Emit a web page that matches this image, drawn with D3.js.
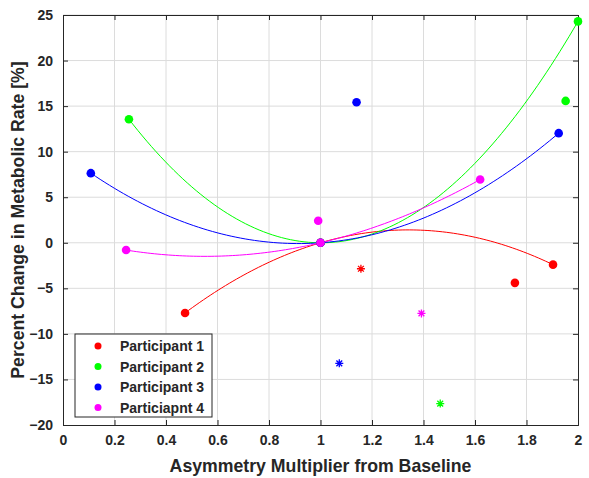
<!DOCTYPE html>
<html>
<head>
<meta charset="utf-8">
<script src="https://cdn.jsdelivr.net/npm/d3@7"></script>
<style>
  body { margin: 0; background: #fff; }
  svg text { font-family: "Liberation Sans", Arial, sans-serif; font-weight: bold; fill: #262626; }
</style>
</head>
<body>
<div id="chart"></div>
<script>
// participants, colours
var participants = ["Participant 1", "Participant 2", "Participant 3", "Particiapnt 4"];
var colors = ["#ff0000", "#00ff00", "#0000ff", "#ff00ff"];

// points used for the quadratic fit (one row per participant)
var fitX = [[0.474, 1, 1.903], [0.256, 1, 2.0], [0.108, 1, 1.925], [0.245, 1, 1.62]];
var fitY = [[-7.7, 0, -2.4], [13.56, 0, 24.3], [7.64, 0, 12.03], [-0.8, 0, 6.94]];

// other trials (dots, not on the fit)
var extraX = [[1.755], [1.952], [1.14], [0.991]];
var extraY = [[-4.4], [15.57], [15.43], [2.41]];

// asterisk markers
var starX = [1.157, 1.465, 1.073, 1.392];
var starY = [-2.85, -17.65, -13.23, -7.75];

var xTicks = [0, 0.2, 0.4, 0.6, 0.8, 1, 1.2, 1.4, 1.6, 1.8, 2];
var yTicks = [-20, -15, -10, -5, 0, 5, 10, 15, 20, 25];

var width = 589, height = 478;
var margin = {top: 15, right: 11, bottom: 53, left: 63};
var axisColor = "#262626";

var svg = d3.select("#chart").append("svg")
  .attr("width", width)
  .attr("height", height);

var x = d3.scaleLinear().domain([0, 2]).range([margin.left, width - margin.right]);
var y = d3.scaleLinear().domain([-20, 25]).range([height - margin.bottom, margin.top]);

// grid
svg.append("g").selectAll("line").data(xTicks.slice(1, -1)).enter()
  .append("line")
  .attr("x1", function(d) { return x(d); }).attr("x2", function(d) { return x(d); })
  .attr("y1", y(-20)).attr("y2", y(25))
  .attr("stroke", "#dcdcdc").attr("stroke-width", 1);
svg.append("g").selectAll("line").data(yTicks.slice(1)).enter()
  .append("line")
  .attr("y1", function(d) { return y(d); }).attr("y2", function(d) { return y(d); })
  .attr("x1", x(0)).attr("x2", x(2))
  .attr("stroke", "#dcdcdc").attr("stroke-width", 1);

// axes (ticks inward, on all four sides)
var tick = 5;
svg.append("g")
  .attr("transform", "translate(0," + y(-20) + ")")
  .call(d3.axisBottom(x).tickValues(xTicks).tickSize(-tick).tickPadding(10)
    .tickFormat(d3.format("~g")))
  .call(function(g) {
    g.selectAll("text").style("font-size", "14px");
  });
svg.append("g")
  .attr("transform", "translate(0," + y(25) + ")")
  .call(d3.axisTop(x).tickValues(xTicks).tickSize(-tick).tickFormat(""));
svg.append("g")
  .attr("transform", "translate(" + x(0) + ",0)")
  .call(d3.axisLeft(y).tickValues(yTicks).tickSize(-tick).tickPadding(10))
  .call(function(g) {
    g.selectAll("text").style("font-size", "14px");
  });
svg.append("g")
  .attr("transform", "translate(" + x(2) + ",0)")
  .call(d3.axisRight(y).tickValues(yTicks).tickSize(-tick).tickFormat(""));

svg.selectAll(".domain").attr("stroke", axisColor);
svg.selectAll(".tick line").attr("stroke", axisColor);
svg.selectAll(".tick text").attr("fill", axisColor);

// quadratic through the fit points
function quadFit(xs, ys) {
  return function(t) {
    var s = 0;
    for (var i = 0; i < 3; i++) {
      var p = ys[i];
      for (var j = 0; j < 3; j++) {
        if (j !== i) p *= (t - xs[j]) / (xs[i] - xs[j]);
      }
      s += p;
    }
    return s;
  };
}

var line = d3.line()
  .x(function(d) { return x(d[0]); })
  .y(function(d) { return y(d[1]); });

participants.forEach(function(name, k) {
  var f = quadFit(fitX[k], fitY[k]);
  var lo = d3.min(fitX[k]), hi = d3.max(fitX[k]);
  var pts = d3.range(0, 101).map(function(i) {
    var t = lo + (hi - lo) * i / 100;
    return [t, f(t)];
  });
  svg.append("path")
    .attr("d", line(pts))
    .attr("fill", "none")
    .attr("stroke", colors[k])
    .attr("stroke-width", 1);
});

participants.forEach(function(name, k) {
  var dots = fitX[k].map(function(v, i) { return [v, fitY[k][i]]; })
    .concat(extraX[k].map(function(v, i) { return [v, extraY[k][i]]; }));
  svg.append("g").selectAll("circle").data(dots).enter()
    .append("circle")
    .attr("cx", function(d) { return x(d[0]); })
    .attr("cy", function(d) { return y(d[1]); })
    .attr("r", 4.3)
    .attr("fill", colors[k]);

  // asterisk
  var sx = x(starX[k]), sy = y(starY[k]), a = 4, b = 2.9;
  svg.append("path")
    .attr("d", "M" + (sx - a) + "," + sy + "H" + (sx + a) +
      "M" + sx + "," + (sy - a) + "V" + (sy + a) +
      "M" + (sx - b) + "," + (sy - b) + "L" + (sx + b) + "," + (sy + b) +
      "M" + (sx - b) + "," + (sy + b) + "L" + (sx + b) + "," + (sy - b))
    .attr("stroke", colors[k])
    .attr("stroke-width", 1.3)
    .attr("fill", "none");
});

// axis labels
svg.append("text")
  .attr("x", (x(0) + x(2)) / 2)
  .attr("y", 472)
  .attr("text-anchor", "middle")
  .style("font-size", "17.7px")
  .text("Asymmetry Multiplier from Baseline");

svg.append("text")
  .attr("transform", "translate(24," + (y(-20) + y(25)) / 2 + ") rotate(-90)")
  .attr("text-anchor", "middle")
  .style("font-size", "17.7px")
  .text("Percent Change in Metabolic Rate [%]");

// legend
var legend = svg.append("g").attr("transform", "translate(75,334)");
legend.append("rect")
  .attr("width", 137).attr("height", 83)
  .attr("fill", "#fff").attr("stroke", axisColor).attr("stroke-width", 1);
participants.forEach(function(name, k) {
  var row = legend.append("g").attr("transform", "translate(0," + (12 + k * 20.5) + ")");
  row.append("circle").attr("cx", 23).attr("cy", 0).attr("r", 3.5).attr("fill", colors[k]);
  row.append("text").attr("x", 45).attr("y", 5).style("font-size", "14px").text(name);
});
</script>
</body>
</html>
